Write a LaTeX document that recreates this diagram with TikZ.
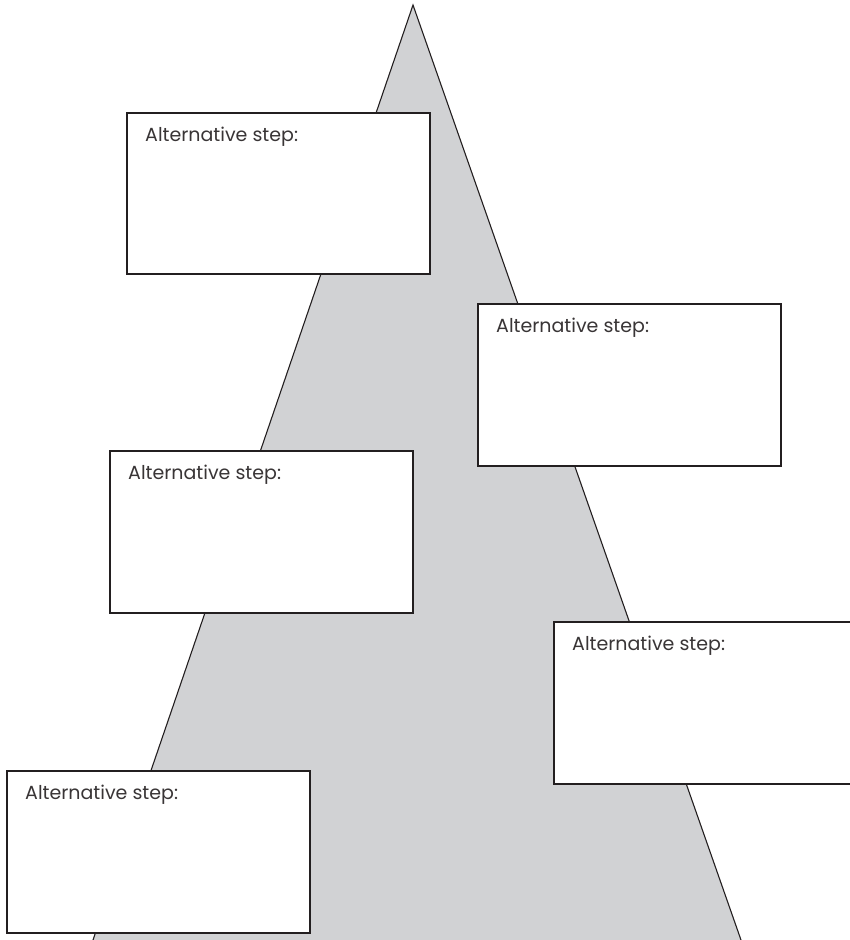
\documentclass[tikz,border=0pt]{standalone}
\usepackage{fontspec}
\setmainfont{Poppins}
\definecolor{peakgrey}{HTML}{D1D2D4}
\definecolor{inkline}{HTML}{231F20}
\tikzset{
  stepbox/.style={draw=inkline, line width=1.1pt, fill=white},
  steplabel/.style={anchor=base west, inner sep=0pt, font=\fontsize{19}{22}\selectfont, text=inkline!90},
}
\begin{document}
\begin{tikzpicture}[x=1pt, y=-1pt]
  \useasboundingbox (0,0) rectangle (850,940);
  \clip (0,0) rectangle (850,940);
  % the mountain
  \coordinate (apex) at (413,5);
  \coordinate (baseL) at (93,940);
  \coordinate (baseR) at (741,940);
  \fill[peakgrey] (baseL) -- (apex) -- (baseR) -- cycle;
  \draw[inkline, line width=1.1pt] (baseL) -- (apex) -- (baseR);
  % step boxes
  \draw[stepbox] (127,113) rectangle (430,274);
  \node[steplabel] (s1) at (145,141) {Alternative step:};
  \draw[stepbox] (478,304) rectangle (781,466);
  \node[steplabel] (s2) at (496,332) {Alternative step:};
  \draw[stepbox] (110,451) rectangle (413,613);
  \node[steplabel] (s3) at (128,479) {Alternative step:};
  \draw[stepbox] (554,622) rectangle (860,784);
  \node[steplabel] (s4) at (572,650) {Alternative step:};
  \draw[stepbox] (7,771) rectangle (310,933);
  \node[steplabel] (s5) at (25,799) {Alternative step:};
\end{tikzpicture}
\end{document}
